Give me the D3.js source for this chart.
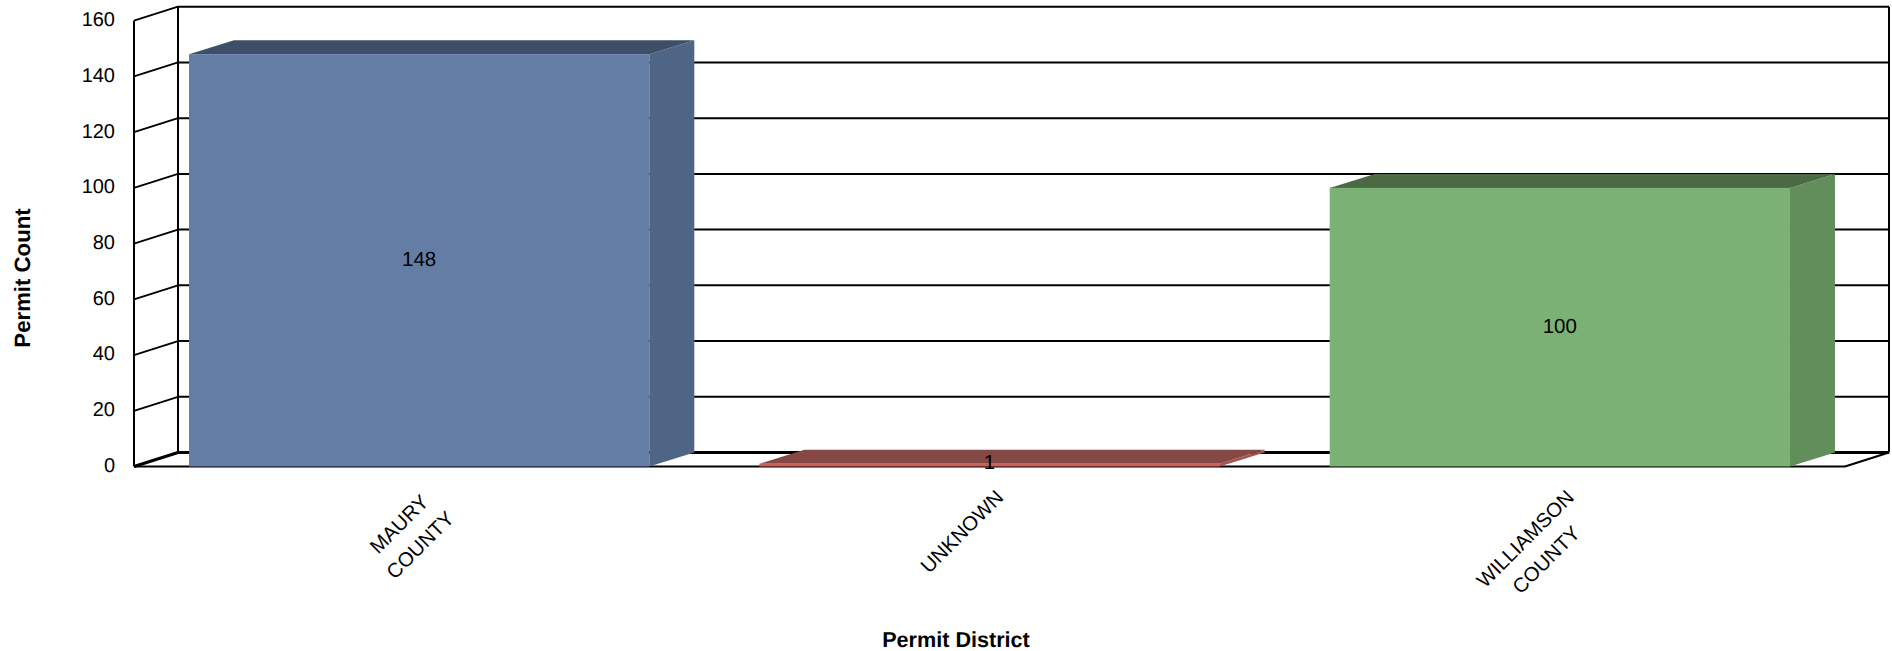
<!DOCTYPE html>
<html>
<head>
<meta charset="utf-8">
<script src="https://cdn.jsdelivr.net/npm/d3@7"></script>
<style>
  html, body { margin: 0; padding: 0; background: #fff; }
  svg { display: block; }
  text { font-family: "Liberation Sans", Arial, sans-serif; fill: #000; text-rendering: geometricPrecision; }
</style>
</head>
<body>
<div id="app"></div>
<script>
const categories = ["MAURY COUNTY", "UNKNOWN", "WILLIAMSON COUNTY"];
const categoryLines = [["MAURY", "COUNTY"], ["UNKNOWN"], ["WILLIAMSON", "COUNTY"]];
const permitCounts = [148, 1, 100];
const yTicks = [0, 20, 40, 60, 80, 100, 120, 140, 160];

const width = 1892,
  height = 651,
  plotLeft = 134,
  plotRight = 1845,
  plotBottom = 466.5,
  plotTop = 20.7,
  depthX = 44,
  barDepthX = 45,
  depthY = 14;

const fronts = ["#647da5", "#c8615c", "#7cb175"];
const tops = ["#3d4e66", "#864844", "#4b6a44"];
const sides = ["#4f6585", "#a2534f", "#618e5a"];

const svg = d3.select("#app").append("svg")
  .attr("width", width)
  .attr("height", height);

const x = d3.scaleBand()
  .domain(categories)
  .range([plotLeft, plotRight])
  .paddingInner(0.193)
  .paddingOuter(0.0965);

const y = d3.scaleLinear().domain([0, 160]).range([plotBottom, plotTop]);

// walls
const walls = svg.append("g").attr("stroke", "#000").attr("fill", "none");

walls.selectAll(".grid")
  .data(yTicks.slice(1))
  .enter().append("line")
  .attr("class", "grid")
  .attr("x1", plotLeft + depthX).attr("x2", plotRight + depthX)
  .attr("y1", d => y(d) - depthY).attr("y2", d => y(d) - depthY)
  .attr("stroke-width", 2);

walls.selectAll(".side")
  .data(yTicks.slice(1))
  .enter().append("line")
  .attr("class", "side")
  .attr("x1", plotLeft).attr("x2", plotLeft + depthX)
  .attr("y1", d => y(d)).attr("y2", d => y(d) - depthY)
  .attr("stroke-width", 1.8);

[plotLeft, plotLeft + depthX, plotRight + depthX].forEach((px, i) => {
  walls.append("line")
    .attr("x1", px).attr("x2", px)
    .attr("y1", (i == 0 ? y(160) : y(160) - depthY))
    .attr("y2", (i == 0 ? y(0) : y(0) - depthY))
    .attr("stroke-width", 2);
});

// floor
walls.append("line")
  .attr("x1", plotLeft + depthX).attr("x2", plotRight + depthX)
  .attr("y1", y(0) - depthY).attr("y2", y(0) - depthY)
  .attr("stroke-width", 3);
walls.append("line")
  .attr("x1", plotLeft).attr("x2", plotLeft + depthX)
  .attr("y1", y(0)).attr("y2", y(0) - depthY)
  .attr("stroke-width", 3);
walls.append("line")
  .attr("x1", plotRight).attr("x2", plotRight + depthX)
  .attr("y1", y(0)).attr("y2", y(0) - depthY)
  .attr("stroke-width", 2);
walls.append("line")
  .attr("x1", plotLeft).attr("x2", plotRight)
  .attr("y1", y(0)).attr("y2", y(0))
  .attr("stroke-width", 2);

// bars
const bars = svg.append("g").selectAll("g")
  .data(categories)
  .enter().append("g");

const pts = a => a.map(p => p.join(",")).join(" ");

bars.append("polygon")
  .attr("fill", (d, i) => sides[i])
  .attr("points", (d, i) => {
    const x1 = x(d) + x.bandwidth(), yv = y(permitCounts[i]);
    return pts([[x1, yv], [x1 + barDepthX, yv - depthY], [x1 + barDepthX, y(0) - depthY], [x1, y(0)]]);
  });

bars.append("polygon")
  .attr("fill", (d, i) => tops[i])
  .attr("points", (d, i) => {
    const x0 = x(d), x1 = x0 + x.bandwidth(), yv = y(permitCounts[i]);
    return pts([[x0, yv], [x0 + barDepthX, yv - depthY], [x1 + barDepthX, yv - depthY], [x1, yv]]);
  });

bars.append("rect")
  .attr("fill", (d, i) => fronts[i])
  .attr("x", d => x(d))
  .attr("y", (d, i) => y(permitCounts[i]))
  .attr("width", x.bandwidth())
  .attr("height", (d, i) => y(0) - y(permitCounts[i]));

bars.append("text")
  .attr("x", d => x(d) + x.bandwidth() / 2)
  .attr("y", (d, i) => (y(permitCounts[i]) + y(0)) / 2 - (permitCounts[i] < 5 ? 3 : 1.5))
  .attr("text-anchor", "middle")
  .attr("dy", "0.36em")
  .attr("font-size", 20.5)
  .text((d, i) => permitCounts[i]);

// y axis labels
const yAxis = svg.append("g")
  .attr("transform", "translate(" + (plotLeft - 14) + ",-1.5)")
  .call(d3.axisLeft(y).tickValues(yTicks).tickSize(0).tickPadding(5));
yAxis.select(".domain").remove();
yAxis.selectAll("text")
  .attr("font-size", 20)
  .style("font-family", '"Liberation Sans", Arial, sans-serif');

// category labels, rotated block hangs from its top right corner
const labelDx = 10, labelY = 493.5, lineStep = 29.7;
const labels = svg.append("g").selectAll("g")
  .data(categories)
  .enter().append("g")
  .attr("transform", d => "translate(" + (x(d) + x.bandwidth() / 2 + labelDx) + "," + labelY + ") rotate(-45)");

labels.each(function(d, i) {
  const g = d3.select(this);
  const lines = g.selectAll("text")
    .data(categoryLines[i])
    .enter().append("text")
    .attr("font-size", 20.3)
    .attr("text-anchor", "middle")
    .attr("dy", "0.36em")
    .text(t => t);
  const blockWidth = d3.max(lines.nodes(), n => n.getComputedTextLength());
  lines.attr("x", -blockWidth / 2).attr("y", (t, k) => k * lineStep);
});

// axis titles
svg.append("text")
  .attr("transform", "translate(22,278) rotate(-90)")
  .attr("text-anchor", "middle")
  .attr("dy", "0.36em")
  .attr("font-size", 22.2)
  .attr("font-weight", "bold")
  .text("Permit Count");

svg.append("text")
  .attr("x", 956)
  .attr("y", 639.5)
  .attr("text-anchor", "middle")
  .attr("dy", "0.36em")
  .attr("font-size", 21.6)
  .attr("font-weight", "bold")
  .text("Permit District");
</script>
</body>
</html>
